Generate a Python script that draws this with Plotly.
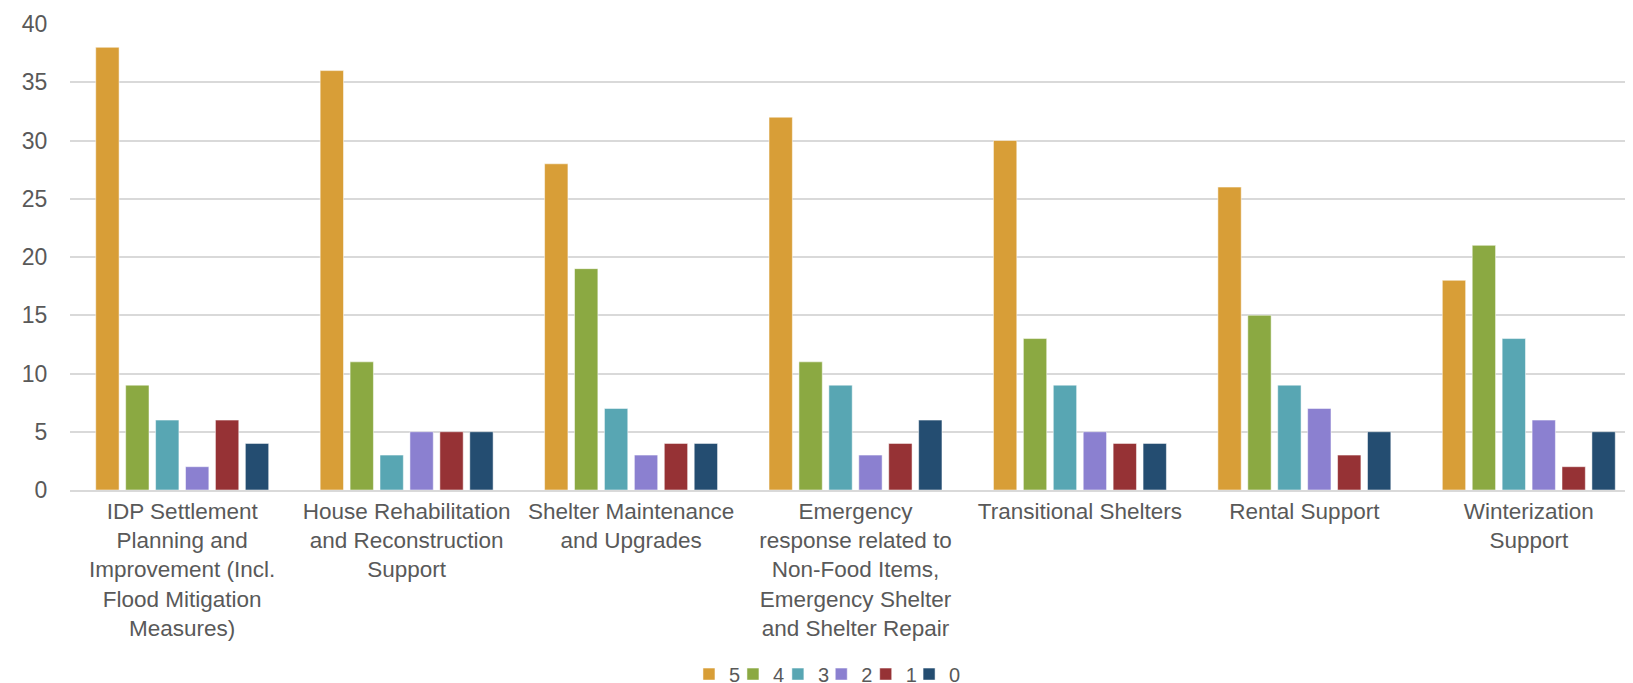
import plotly.graph_objects as go

categories = [
    "IDP Settlement<br>Planning and<br>Improvement (Incl.<br>Flood Mitigation<br>Measures)",
    "House Rehabilitation<br>and Reconstruction<br>Support",
    "Shelter Maintenance<br>and Upgrades",
    "Emergency<br>response related to<br>Non-Food Items,<br>Emergency Shelter<br>and Shelter Repair",
    "Transitional Shelters",
    "Rental Support",
    "Winterization<br>Support",
]
series_names = ["5", "4", "3", "2", "1", "0"]
s5 = [38, 36, 28, 32, 30, 26, 18]
s4 = [9, 11, 19, 11, 13, 15, 21]
s3 = [6, 3, 7, 9, 9, 9, 13]
s2 = [2, 5, 3, 3, 5, 7, 6]
s1 = [6, 5, 4, 4, 4, 3, 2]
s0 = [4, 5, 4, 6, 4, 5, 5]
series_values = [s5, s4, s3, s2, s1, s0]
colors = ["#D89E37", "#8BA942", "#58A6B3", "#8B80D0", "#963235", "#244D71"]

# legend entry positions (paper fraction of plot width), one small legend per series
legend_x = [0.394, 0.422, 0.4506, 0.4782, 0.5065, 0.5341]

fig = go.Figure()
legends = {}
for i, (name, vals, col) in enumerate(zip(series_names, series_values, colors)):
    key = "legend" if i == 0 else f"legend{i + 1}"
    fig.add_trace(go.Bar(
        x=categories, y=vals, name=name, legend=key,
        marker=dict(color=col, line=dict(color="rgba(255,255,255,0.5)", width=1)),
    ))
    legends[key] = dict(orientation="h", x=legend_x[i], xanchor="left",
                        y=-0.395, yanchor="middle", itemwidth=30,
                        font=dict(size=20, color="#595959"),
                        bgcolor="rgba(0,0,0,0)")

FS = 22.5
fig.update_layout(
    width=1633, height=683,
    autosize=False,
    margin=dict(l=62, r=0, t=16, b=201, pad=0, autoexpand=False),
    paper_bgcolor="white", plot_bgcolor="white",
    barmode="group", bargap=0.2, bargroupgap=0.22,
    font=dict(family="Liberation Sans, Arial, sans-serif", size=FS, color="#595959"),
    showlegend=True,
    xaxis=dict(tickangle=0, showline=True, linecolor="#d9d9d9", linewidth=1.5,
               ticks="", tickfont=dict(size=FS, color="#595959"),
               automargin=False),
    yaxis=dict(range=[0, 40], dtick=5, showgrid=True, gridcolor="#d9d9d9", gridwidth=1.5,
               zeroline=False, ticks="outside", ticklen=17, tickcolor="rgba(0,0,0,0)",
               tickfont=dict(size=23, color="#595959"), automargin=False),
    **legends,
)

fig.write_html("out.html", config={"responsive": False})
